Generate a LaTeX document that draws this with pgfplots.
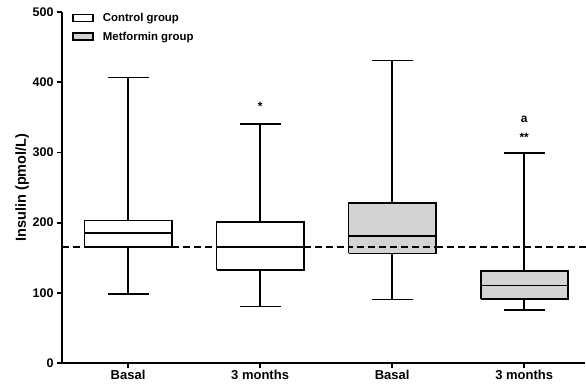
\documentclass[border=0pt]{standalone}
\usepackage{fontspec}
\setmainfont{Liberation Sans}
\usepackage{pgfplots}
\pgfplotsset{compat=1.18}
\definecolor{boxgray}{RGB}{211,211,211}
\begin{document}
\begin{tikzpicture}
\path[use as bounding box] (-62bp,-22bp) rectangle (524bp,363bp);
\begin{axis}[
  scale only axis,
  width=523bp, height=351bp,
  xmin=0.5, xmax=4.46,
  ymin=0, ymax=500,
  axis x line=bottom, axis y line=left,
  axis line style={-, line width=1.8bp},
  tick style={black, line width=1.8bp},
  tick align=outside,
  major tick length=5bp,
  xtick={1,2,3,4},
  xticklabels={Basal,3 months,Basal,3 months},
  ytick={0,100,200,300,400,500},
  /pgf/number format/assume math mode=true,
  x tick label style={font=\fontsize{13bp}{15bp}\selectfont\bfseries, yshift=1bp},
  y tick label style={font=\fontsize{12.5bp}{14bp}\selectfont\bfseries},
  ylabel={Insulin (pmol/L)},
  ylabel style={at={(axis description cs:-0.076,0.5)}, anchor=center, font=\fontsize{14.5bp}{16bp}\selectfont\bfseries},
  clip=false,
  legend style={at={(axis description cs:0.019,1.0)}, anchor=north west, draw=none, fill=none,
    font=\fontsize{11.4bp}{13bp}\selectfont\bfseries, row sep=7bp, inner sep=0pt,
    nodes={inner sep=1bp}},
  legend cell align=left,
  every axis plot/.append style={line width=1.8bp, black},
]
\addlegendimage{legend image code/.code={\draw[line width=1.8bp, fill=white] (0bp,-3.5bp) rectangle (20bp,3.5bp); \path (28bp,0bp);}}
\addlegendentry{Control group}
\addlegendimage{legend image code/.code={\draw[line width=1.8bp, fill=boxgray] (0bp,-3.5bp) rectangle (20bp,3.5bp); \path (28bp,0bp);}}
\addlegendentry{Metformin group}

% dashed reference line
\addplot[forget plot, line width=1.8bp, dash pattern=on 7bp off 4bp] coordinates {(0.5,165) (4.47,165)};

% Box 1: Control, Basal
\addplot[forget plot, line width=1.8bp] coordinates {(1,203) (1,406.7)};
\addplot[forget plot, line width=1.8bp] coordinates {(0.845,406.7) (1.155,406.7)};
\addplot[forget plot, line width=1.8bp] coordinates {(1,165.7) (1,98)};
\addplot[forget plot, line width=1.8bp] coordinates {(0.845,98) (1.155,98)};
\addplot[forget plot, line width=1.8bp, fill=white] coordinates {(0.67,165.7) (1.33,165.7) (1.33,203) (0.67,203) (0.67,165.7)};
\addplot[forget plot, line width=1.8bp] coordinates {(0.67,185.7) (1.33,185.7)};

% Box 2: Control, 3 months
\addplot[forget plot, line width=1.8bp] coordinates {(2,200.4) (2,341)};
\addplot[forget plot, line width=1.8bp] coordinates {(1.845,341) (2.155,341)};
\addplot[forget plot, line width=1.8bp] coordinates {(2,133) (2,80.5)};
\addplot[forget plot, line width=1.8bp] coordinates {(1.845,80.5) (2.155,80.5)};
\addplot[forget plot, line width=1.8bp, fill=white] coordinates {(1.67,133) (2.33,133) (2.33,200.4) (1.67,200.4) (1.67,133)};
\addplot[forget plot, line width=1.8bp] coordinates {(1.67,165) (2.33,165)};

% Box 3: Metformin, Basal
\addplot[forget plot, line width=1.8bp] coordinates {(3,227.6) (3,431)};
\addplot[forget plot, line width=1.8bp] coordinates {(2.845,431) (3.155,431)};
\addplot[forget plot, line width=1.8bp] coordinates {(3,156) (3,90.5)};
\addplot[forget plot, line width=1.8bp] coordinates {(2.845,90.5) (3.155,90.5)};
\addplot[forget plot, line width=1.8bp, fill=boxgray] coordinates {(2.67,156) (3.33,156) (3.33,227.6) (2.67,227.6) (2.67,156)};
\addplot[forget plot, line width=1.8bp] coordinates {(2.67,181) (3.33,181)};
\addplot[forget plot, line width=1.8bp, dash pattern=on 7bp off 4bp, dash phase=3bp] coordinates {(2.67,165) (3.33,165)};

% Box 4: Metformin, 3 months
\addplot[forget plot, line width=1.8bp] coordinates {(4,131) (4,299.5)};
\addplot[forget plot, line width=1.8bp] coordinates {(3.845,299.5) (4.155,299.5)};
\addplot[forget plot, line width=1.8bp] coordinates {(4,91) (4,75.7)};
\addplot[forget plot, line width=1.8bp] coordinates {(3.845,75.7) (4.155,75.7)};
\addplot[forget plot, line width=1.8bp, fill=boxgray] coordinates {(3.67,91) (4.33,91) (4.33,131) (3.67,131) (3.67,91)};
\addplot[forget plot, line width=1.8bp] coordinates {(3.67,110.5) (4.33,110.5)};

\node[font=\fontsize{12bp}{14bp}\selectfont\bfseries] at (axis cs:2,365) {*};
\node[font=\fontsize{12bp}{14bp}\selectfont\bfseries] at (axis cs:4,347) {a};
\node[font=\fontsize{12bp}{14bp}\selectfont\bfseries] at (axis cs:4,322) {**};
\end{axis}
\end{tikzpicture}
\end{document}
